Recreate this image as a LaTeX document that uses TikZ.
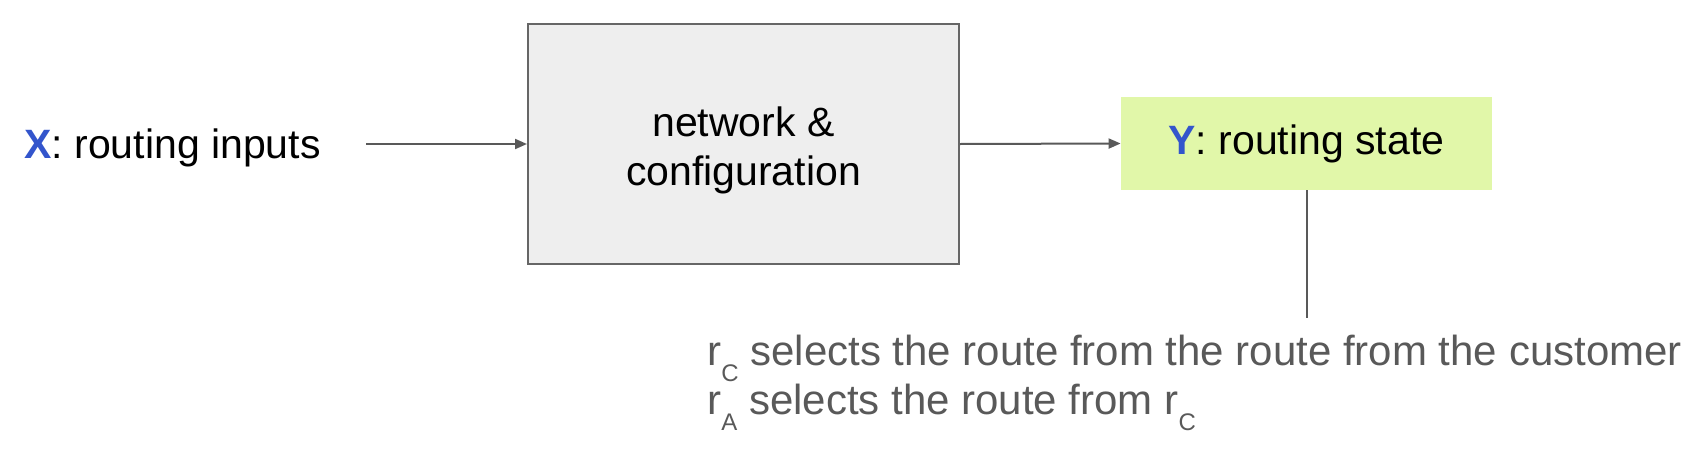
\documentclass[tikz,border=0pt]{standalone}
\usepackage{fontspec}
\setmainfont{Liberation Sans}
\usetikzlibrary{arrows.meta}
\definecolor{inkblue}{RGB}{51,85,204}
\definecolor{boxgray}{HTML}{EEEEEE}
\definecolor{boxline}{HTML}{666666}
\definecolor{wiregray}{HTML}{595959}
\definecolor{stategreen}{HTML}{E1F7A9}
\newcommand\lowsub[1]{\raisebox{-8pt}{\fontsize{12}{13}\selectfont #1}}

\begin{document}
\begin{tikzpicture}[x=.5pt,y=-.5pt, every node/.style={font=\fontsize{20.5}{24.5}\selectfont},
  feed/.style={wiregray,line width=1pt,-{Triangle[length=6pt,width=5pt]}}]
  \useasboundingbox (0,0) rectangle (1690,466);
  \node[anchor=base west,inner sep=0pt] (xin) at (24,158) {\textcolor{inkblue}{\textbf{X}}: routing inputs};
  \node[draw=boxline,fill=boxgray,line width=1pt,minimum width=215.5pt,minimum height=120pt,align=center] (net) at (743.5,144) {\rule{0pt}{21pt}network \&\\configuration};
  \node[fill=stategreen,minimum width=185.5pt,minimum height=46.5pt] (ys) at (1306.5,143.5) {\textcolor{inkblue}{\textbf{Y}}: routing state};
  \coordinate (tap) at (1306.5,318);
  \node[anchor=north west,inner sep=0pt,align=left,text=wiregray,font=\fontsize{21}{24.5}\selectfont] (note) at (707,335)
    {r\lowsub{C} selects the route from the route from the customer\\
     r\lowsub{A} selects the route from r\lowsub{C}};
  % arrows between the blocks
  \draw[feed,shorten <=22.5pt] (xin.east |- net.west) -- (net.west);
  \draw[feed] (net.east) -- (ys.west);
  \draw[wiregray,line width=1pt] (ys.south) -- (tap);
\end{tikzpicture}
\end{document}
